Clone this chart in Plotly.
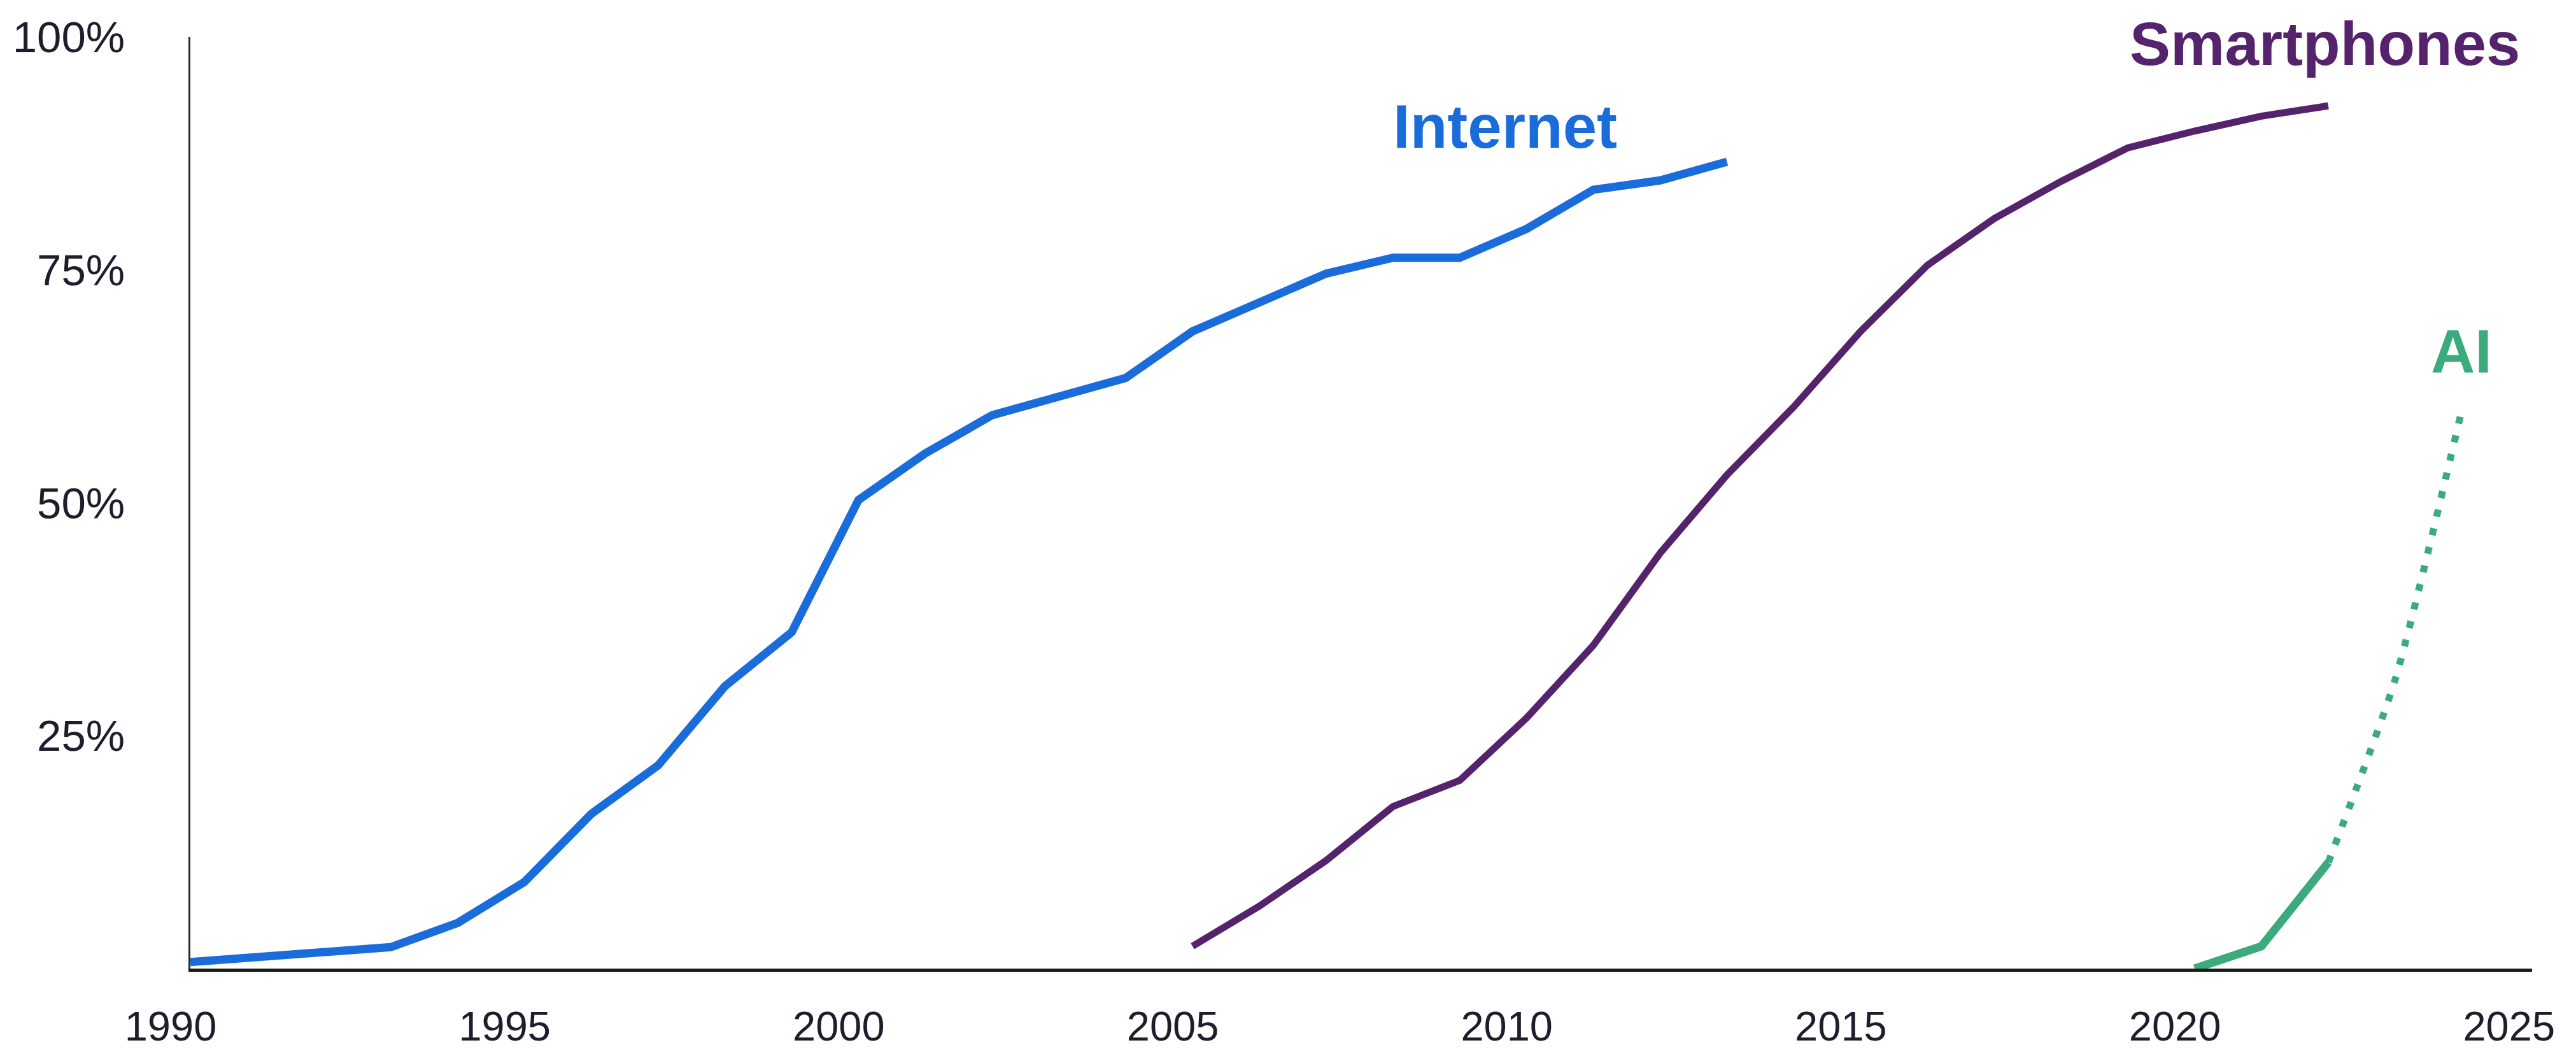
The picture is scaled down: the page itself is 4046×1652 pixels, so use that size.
import plotly.graph_objects as go

# ---- data ----
internet_years = list(range(1990, 2014))
internet_pct = [0.7, 1.3, 1.7, 2.3, 4.9, 9.3, 16.6, 21.8, 30.3, 36.1, 50.3, 55.3, 59.4, 61.5, 63.4,
                68.4, 71.5, 74.6, 76.3, 76.3, 79.4, 83.6, 84.6, 86.6]

smart_years = list(range(2005, 2023))
smart_pct = [2.4, 6.7, 11.6, 17.4, 20.2, 26.9, 34.7, 44.6, 53.0, 60.3, 68.4, 75.5, 80.5,
             84.5, 88.1, 89.9, 91.5, 92.6]

ai_years = [2020, 2021, 2022]
ai_pct = [0.0, 2.4, 11.4]
ai_proj_years = [2022, 2023, 2024]
ai_proj_pct = [11.4, 31.0, 60.0]

x_ticks = [1990, 1995, 2000, 2005, 2010, 2015, 2020, 2025]
y_ticks = [25, 50, 75, 100]

labels = ["Internet", "Smartphones", "AI"]
label_x = [2009.68, 2021.95, 2023.99]
label_y = [90.4, 99.3, 66.3]

BLUE = "#1B6CDB"
PURPLE = "#55226C"
GREEN = "#3BAA7D"

fig = go.Figure()
fig.add_trace(go.Scatter(x=internet_years, y=internet_pct, mode="lines",
                         line=dict(color=BLUE, width=13), hoverinfo="skip"))
fig.add_trace(go.Scatter(x=smart_years, y=smart_pct, mode="lines",
                         line=dict(color=PURPLE, width=11), hoverinfo="skip"))
fig.add_trace(go.Scatter(x=ai_years, y=ai_pct, mode="lines",
                         line=dict(color=GREEN, width=13), hoverinfo="skip"))
fig.add_trace(go.Scatter(x=ai_proj_years, y=ai_proj_pct, mode="lines",
                         line=dict(color=GREEN, width=11, dash="11px,19px", shape="spline", smoothing=0.6),
                         hoverinfo="skip"))

colors = [BLUE, PURPLE, GREEN]
for t, xx, yy, c in zip(labels, label_x, label_y, colors):
    fig.add_annotation(x=xx, y=yy, xref="x", yref="y", text=f"<b>{t}</b>", showarrow=False,
                       font=dict(family="Liberation Sans, Arial, sans-serif", size=96, color=c),
                       xanchor="center", yanchor="middle")

fig.update_layout(
    width=4046, height=1652,
    margin=dict(l=284, r=77, t=43, b=112),
    paper_bgcolor="white", plot_bgcolor="white",
    showlegend=False,
    font=dict(family="Liberation Sans, Arial, sans-serif", color="#1d1d2b"),
)
fig.update_xaxes(range=[1990, 2025.05], tickvals=x_ticks, ticktext=[str(v) for v in x_ticks],
                 showgrid=False, zeroline=False, showline=True, linecolor="#1a1a1a", linewidth=5,
                 ticks="", tickfont=dict(size=65, color="#1d1d2b"), ticklabelshift=-31,
                 ticklabelstandoff=30)
fig.update_yaxes(range=[0, 100], tickvals=y_ticks, ticktext=[f"{v}%" for v in y_ticks],
                 showgrid=False, zeroline=False, showline=True, linecolor="#2a2a2a", linewidth=3,
                 ticks="", tickfont=dict(size=69, color="#1d1d2b"), ticklabelstandoff=86)

fig.write_html("out.html")
